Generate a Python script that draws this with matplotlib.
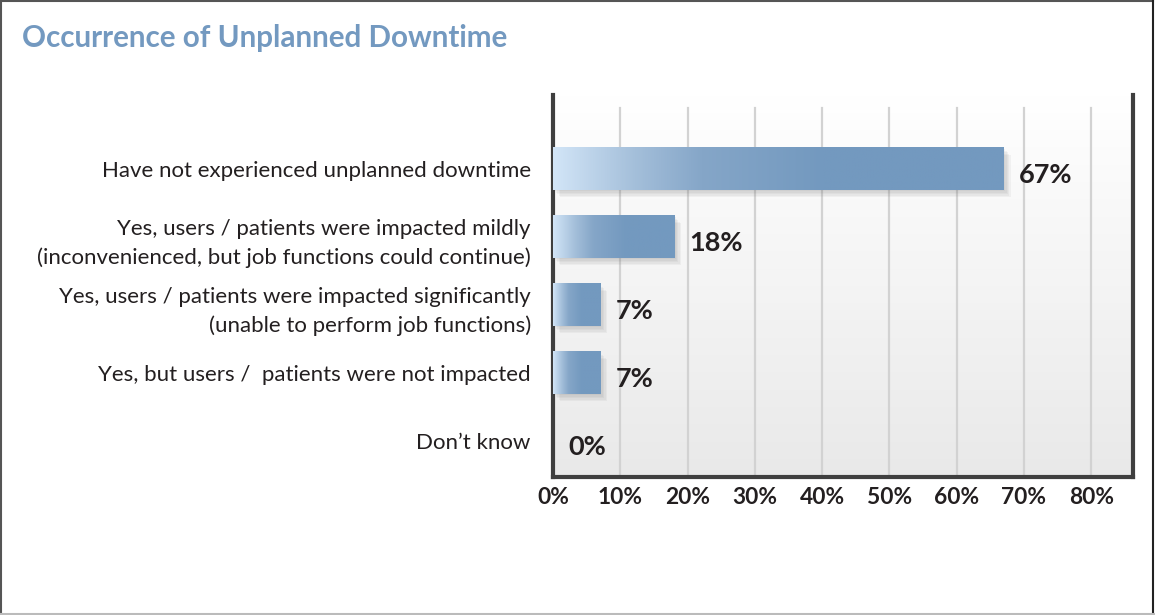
import numpy as np
import matplotlib
matplotlib.use("Agg")
import matplotlib.pyplot as plt
import matplotlib.patheffects as pe
from matplotlib.colors import LinearSegmentedColormap

# data
categories = [
    "Have not experienced unplanned downtime",
    "Yes, users / patients were impacted mildly\n(inconvenienced, but job functions could continue)",
    "Yes, users / patients were impacted significantly\n(unable to perform job functions)",
    "Yes, but users /  patients were not impacted",
    "Don\u2019t know",
]
values = [67, 18, 7, 7, 0]
xticks = [0, 10, 20, 30, 40, 50, 60, 70, 80]
title = "Occurrence of Unplanned Downtime"

plt.rcParams['font.family'] = ['Lato', 'DejaVu Sans']

fig = plt.figure(figsize=(11.55, 6.15), dpi=100)
ax = fig.add_axes([553 / 1155, 1 - 477 / 615, (1133 - 553) / 1155, (477 - 95) / 615])

xmax = 86.2
ymin, ymax = 4.53, -1.088
ax.set_xlim(0, xmax)
ax.set_ylim(ymin, ymax)

# background vertical gradient
bg = np.linspace(0, 1, 256).reshape(-1, 1)
bg_cmap = LinearSegmentedColormap.from_list("bg", ["#ffffff", "#e9e9e9"])
ax.imshow(bg, cmap=bg_cmap, extent=[0, xmax, ymin, ymax], aspect="auto",
          origin="upper", zorder=0)

# gridlines (stop short of the top)
grid_top = (477 - 108) / (477 - 95)
for t in xticks[1:]:
    ax.axvline(t, ymin=0, ymax=grid_top, color="#d2d2d2", lw=1.6, zorder=1)

# bars with gradient fill and soft shadow
bar_h = 0.618
bar_cmap = LinearSegmentedColormap.from_list(
    "bar", [(0, "#d2e5f7"), (0.3, "#a4bfda"), (0.55, "#85a6c8"), (1, "#7399bf")])
pos = np.arange(len(categories))
bars = ax.barh(pos, values, height=bar_h, color="#7399bf", zorder=2)
shadow = [pe.SimplePatchShadow(offset=(d, -d), shadow_rgbFace="#777777", alpha=0.07)
          for d in (1, 2, 3, 4, 5)]
for b in bars:
    if b.get_width() <= 0:
        continue
    b.set_path_effects(shadow + [pe.Normal()])
    x0, y0, w, h = b.get_x(), b.get_y(), b.get_width(), b.get_height()
    grad = np.clip(np.linspace(0, 1, 256) / 0.6, 0, 1).reshape(1, -1)
    ax.imshow(grad, cmap=bar_cmap, extent=[x0, x0 + w, y0 + h, y0], aspect="auto",
              zorder=3, interpolation="bilinear")

ax.set_xlim(0, xmax)
ax.set_ylim(ymin, ymax)

# value labels
for p, v in zip(pos, values):
    ax.annotate(f"{v}%", xy=(v, p), xytext=(11, -4), textcoords="offset points",
                ha="left", va="center", fontsize=19.5, fontweight="bold",
                color="#231f20", zorder=4)

# category labels
ax.set_yticks(pos)
ax.set_yticklabels(categories, fontsize=16, color="#231f20", linespacing=1.55)
ax.tick_params(axis="y", length=0, pad=16)

ax.set_xticks(xticks)
ax.set_xticklabels([f"{t}%" for t in xticks], fontsize=16.4, fontweight="bold",
                   color="#231f20")
ax.tick_params(axis="x", length=0, pad=7)

for s in ["left", "right", "bottom"]:
    ax.spines[s].set_color("#3f3f3f")
    ax.spines[s].set_linewidth(3)
ax.spines["top"].set_visible(False)

# title
fig.text(22 / 1155, 1 - 38 / 615, title, fontsize=21.3, fontweight="bold",
         color="#7399c0", ha="left", va="center")

# figure border
fig.add_artist(plt.Line2D([0.001, 0.001], [0, 0.998], color="#555555", lw=1.5,
                          transform=fig.transFigure))
fig.add_artist(plt.Line2D([0.001, 0.998], [0.998, 0.998], color="#555555", lw=1.5,
                          transform=fig.transFigure))
fig.add_artist(plt.Line2D([0.998, 0.998], [0, 0.998], color="#222222", lw=1.5,
                          transform=fig.transFigure))
fig.add_artist(plt.Line2D([0, 1], [0.001, 0.001], color="#bbbbbb", lw=1.5,
                          transform=fig.transFigure))

fig.savefig("out.png", dpi=100)
